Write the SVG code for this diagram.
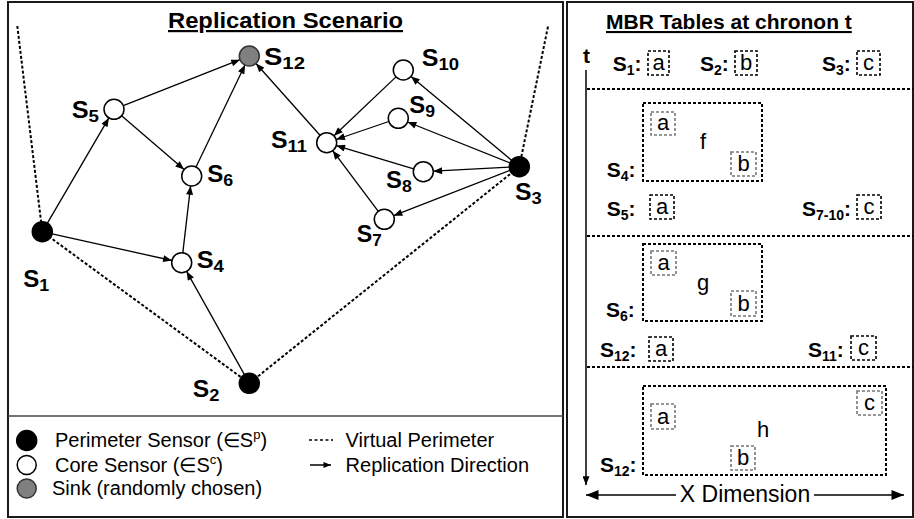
<svg xmlns="http://www.w3.org/2000/svg" width="914" height="519" viewBox="0 0 914 519">
<style>
  .panel { fill: none; stroke: #1a1a1a; stroke-width: 2; }
  .title { font-family: "Liberation Sans", Arial, sans-serif; font-weight: bold; fill: #000; text-decoration: underline; }
  .lbl { font-family: "Liberation Sans", Arial, sans-serif; font-weight: bold; font-size: 23px; fill: #000; }
  .sub { font-size: 17px; }
  .rlbl { font-family: "Liberation Sans", Arial, sans-serif; font-weight: bold; font-size: 21px; fill: #000; }
  .rsub { font-size: 14px; }
  .leg { font-family: "Liberation Sans", Arial, sans-serif; font-size: 20px; fill: #000; }
  .let { font-family: "Liberation Sans", Arial, sans-serif; font-size: 22px; fill: #000; text-anchor: middle; }
  .perim { fill: #000; stroke: #000; stroke-width: 1.5; }
  .core { fill: #fff; stroke: #000; stroke-width: 1.5; }
  .sink { fill: #808080; stroke: #333; stroke-width: 1.5; }
  .edge { stroke: #000; stroke-width: 1.3; fill: none; marker-end: url(#ah); }
  .vp { stroke: #000; stroke-width: 2; stroke-dasharray: 3 2; fill: none; }
  .bigbox { fill: none; stroke: #000; stroke-width: 2; stroke-dasharray: 3 2; }
  .gbox { fill: none; stroke: #777; stroke-width: 1.6; stroke-dasharray: 3 2; }
  .kbox { fill: none; stroke: #000; stroke-width: 1.6; stroke-dasharray: 3 2; }
  .sep { stroke: #000; stroke-width: 2; stroke-dasharray: 3 2; }
  .axis { stroke: #000; stroke-width: 1.5; fill: none; }
</style>
<defs>
  <marker id="ah" viewBox="0 0 10 8" refX="10" refY="4" markerWidth="10" markerHeight="7" markerUnits="userSpaceOnUse" orient="auto">
    <path d="M0,0 L10,4 L0,8 z" fill="#000"/>
  </marker>
  <marker id="ahs" viewBox="0 0 10 8" refX="10" refY="4" markerWidth="8" markerHeight="6" markerUnits="userSpaceOnUse" orient="auto">
    <path d="M0,0 L10,4 L0,8 z" fill="#000"/>
  </marker>
  <marker id="ahb" viewBox="0 0 10 8" refX="10" refY="4" markerWidth="17" markerHeight="10" markerUnits="userSpaceOnUse" orient="auto">
    <path d="M0,0 L10,4 L0,8 z" fill="#000"/>
  </marker>
  <marker id="ahv" viewBox="0 0 10 8" refX="10" refY="4" markerWidth="10" markerHeight="7" markerUnits="userSpaceOnUse" orient="auto">
    <path d="M0,0 L10,4 L0,8 z" fill="#000"/>
  </marker>
</defs>

<rect width="914" height="519" fill="#fff"/>

<!-- Panels -->
<rect class="panel" x="8" y="2" width="555" height="515"/>
<rect class="panel" x="567" y="2" width="346" height="515"/>
<line x1="8" y1="416" x2="563" y2="416" stroke="#444" stroke-width="1.5"/>

<text class="title" x="285.5" y="28" font-size="22" text-anchor="middle" textLength="235" lengthAdjust="spacingAndGlyphs">Replication Scenario</text>
<text class="title" x="606" y="29" font-size="21">MBR Tables at chronon t</text>

<!-- Virtual perimeter -->
<g id="perimeter">
  <polyline class="vp" points="17.3,26 42.3,231.7 249.3,383.3 519.3,166.7 548.3,25"/>
</g>

<!-- Connectors -->
<g id="connectors">
  <line class="edge" x1="123.3" y1="105.6" x2="240.0" y2="59.7"/>
  <line class="edge" x1="121.6" y1="115.8" x2="184.1" y2="169.5"/>
  <line class="edge" x1="196.0" y1="167.0" x2="245.0" y2="65.0"/>
  <line class="edge" x1="47.4" y1="223.1" x2="108.9" y2="117.9"/>
  <line class="edge" x1="52.1" y1="233.9" x2="171.9" y2="260.5"/>
  <line class="edge" x1="182.8" y1="252.8" x2="190.6" y2="185.9"/>
  <line class="edge" x1="244.4" y1="374.6" x2="186.6" y2="271.4"/>
  <line class="edge" x1="320.0" y1="135.2" x2="256.0" y2="63.5"/>
  <line class="edge" x1="396.0" y1="76.9" x2="334.0" y2="135.8"/>
  <line class="edge" x1="388.8" y1="121.5" x2="336.2" y2="139.5"/>
  <line class="edge" x1="413.7" y1="168.8" x2="336.3" y2="145.6"/>
  <line class="edge" x1="378.3" y1="211.3" x2="332.7" y2="150.7"/>
  <line class="edge" x1="511.6" y1="160.3" x2="411.0" y2="76.4"/>
  <line class="edge" x1="510.0" y1="163.0" x2="407.6" y2="122.0"/>
  <line class="edge" x1="509.3" y1="167.2" x2="433.3" y2="171.2"/>
  <line class="edge" x1="510.0" y1="170.3" x2="393.6" y2="215.7"/>
</g>

<!-- Nodes -->
<g id="node-s1"><circle class="perim" cx="42.3" cy="231.7" r="10"/>
  <text class="lbl" x="23.3" y="287.3" textLength="26" lengthAdjust="spacingAndGlyphs">S<tspan class="sub" dy="4">1</tspan></text></g>
<g id="node-s2"><circle class="perim" cx="249.3" cy="383.3" r="10"/>
  <text class="lbl" x="192.7" y="396.7" textLength="26.6" lengthAdjust="spacingAndGlyphs">S<tspan class="sub" dy="4">2</tspan></text></g>
<g id="node-s3"><circle class="perim" cx="519.3" cy="166.7" r="10"/>
  <text class="lbl" x="515" y="200" textLength="26.7" lengthAdjust="spacingAndGlyphs">S<tspan class="sub" dy="4">3</tspan></text></g>
<g id="node-s4"><circle class="core" cx="181.7" cy="262.7" r="10"/>
  <text class="lbl" x="196.7" y="268.3" textLength="27.3" lengthAdjust="spacingAndGlyphs">S<tspan class="sub" dy="4">4</tspan></text></g>
<g id="node-s5"><circle class="core" cx="114" cy="109.3" r="10"/>
  <text class="lbl" x="71.7" y="118.3" textLength="27.3" lengthAdjust="spacingAndGlyphs">S<tspan class="sub" dy="4">5</tspan></text></g>
<g id="node-s6"><circle class="core" cx="191.7" cy="176" r="10"/>
  <text class="lbl" x="207.3" y="181.7" textLength="26" lengthAdjust="spacingAndGlyphs">S<tspan class="sub" dy="4">6</tspan></text></g>
<g id="node-s7"><circle class="core" cx="384.3" cy="219.3" r="10"/>
  <text class="lbl" x="356.7" y="242" textLength="25" lengthAdjust="spacingAndGlyphs">S<tspan class="sub" dy="4">7</tspan></text></g>
<g id="node-s8"><circle class="core" cx="423.3" cy="171.7" r="10"/>
  <text class="lbl" x="386" y="188.3" textLength="25.7" lengthAdjust="spacingAndGlyphs">S<tspan class="sub" dy="4">8</tspan></text></g>
<g id="node-s9"><circle class="core" cx="398.3" cy="118.3" r="10"/>
  <text class="lbl" x="409.3" y="113.3" textLength="25.7" lengthAdjust="spacingAndGlyphs">S<tspan class="sub" dy="4">9</tspan></text></g>
<g id="node-s10"><circle class="core" cx="403.3" cy="70" r="10"/>
  <text class="lbl" x="421.7" y="65.7" textLength="37.3" lengthAdjust="spacingAndGlyphs">S<tspan class="sub" dy="4">10</tspan></text></g>
<g id="node-s11"><circle class="core" cx="326.7" cy="142.7" r="10"/>
  <text class="lbl" x="271" y="148" textLength="36" lengthAdjust="spacingAndGlyphs">S<tspan class="sub" dy="4">11</tspan></text></g>
<g id="node-s12"><circle class="sink" cx="249.3" cy="56" r="10"/>
  <text class="lbl" x="264" y="65" textLength="41" lengthAdjust="spacingAndGlyphs">S<tspan class="sub" dy="4">12</tspan></text></g>

<!-- Legend -->
<g id="legend">
  <circle class="perim" cx="26.7" cy="440.5" r="10"/>
  <circle class="core" cx="26.7" cy="465" r="9.5"/>
  <circle class="sink" cx="26.7" cy="488.5" r="9.5"/>
  <text class="leg" x="55" y="446.5">Perimeter Sensor (∈S<tspan font-size="13" dy="-8">p</tspan><tspan dy="8">)</tspan></text>
  <text class="leg" x="55" y="471.5">Core Sensor (∈S<tspan font-size="13" dy="-8">c</tspan><tspan dy="8">)</tspan></text>
  <text class="leg" x="52" y="495">Sink (randomly chosen)</text>
  <line x1="309" y1="440" x2="333" y2="440" stroke="#000" stroke-width="1.5" stroke-dasharray="3 2.5"/>
  <line x1="310" y1="465" x2="331" y2="465" stroke="#000" stroke-width="1.5" marker-end="url(#ahs)"/>
  <text class="leg" x="345.6" y="446.5">Virtual Perimeter</text>
  <text class="leg" x="345.6" y="471.5">Replication Direction</text>
</g>

<!-- Right panel: MBR tables -->
<g id="mbr-axes">
  <text class="rlbl" x="586.5" y="63" text-anchor="middle">t</text>
  <line class="axis" x1="586" y1="70" x2="586" y2="485" marker-end="url(#ahv)"/>
  <line class="axis" x1="676" y1="495" x2="586" y2="495" marker-end="url(#ahb)"/>
  <line class="axis" x1="814" y1="495" x2="904" y2="495" marker-end="url(#ahb)"/>
  <text x="745" y="501.5" text-anchor="middle" font-family="Liberation Sans, Arial, sans-serif" font-size="23" fill="#000">X Dimension</text>
  <line class="sep" x1="587" y1="89" x2="913" y2="89"/>
  <line class="sep" x1="587" y1="236" x2="913" y2="236"/>
  <line class="sep" x1="587" y1="367" x2="913" y2="367"/>
</g>

<g id="mbr-row1">
  <text class="rlbl" x="612.7" y="71">S<tspan class="rsub" dy="4">1</tspan><tspan dy="-4">:</tspan></text>
  <rect class="kbox" x="648" y="51" width="21" height="24"/>
  <text class="let" x="658.5" y="70">a</text>
  <text class="rlbl" x="700" y="71">S<tspan class="rsub" dy="4">2</tspan><tspan dy="-4">:</tspan></text>
  <rect class="kbox" x="735" y="51" width="22" height="24"/>
  <text class="let" x="746" y="70">b</text>
  <text class="rlbl" x="822" y="71">S<tspan class="rsub" dy="4">3</tspan><tspan dy="-4">:</tspan></text>
  <rect class="kbox" x="857" y="51" width="23" height="24"/>
  <text class="let" x="868.5" y="70">c</text>
</g>

<g id="mbr-s4">
  <rect class="bigbox" x="643" y="103" width="119" height="78"/>
  <rect class="gbox" x="651" y="112" width="24" height="23"/>
  <text class="let" x="663" y="130">a</text>
  <text class="let" x="703" y="149">f</text>
  <rect class="gbox" x="731" y="152" width="25" height="24"/>
  <text class="let" x="743.5" y="171">b</text>
  <text class="rlbl" x="606.7" y="177">S<tspan class="rsub" dy="4">4</tspan><tspan dy="-4">:</tspan></text>
</g>

<g id="mbr-row2">
  <text class="rlbl" x="606.7" y="216">S<tspan class="rsub" dy="4">5</tspan><tspan dy="-4">:</tspan></text>
  <rect class="kbox" x="650" y="195" width="24" height="24"/>
  <text class="let" x="662" y="214">a</text>
  <text class="rlbl" x="802" y="216">S<tspan class="rsub" dy="4">7-10</tspan><tspan dy="-4">:</tspan></text>
  <rect class="kbox" x="857" y="195" width="24" height="24"/>
  <text class="let" x="869" y="214">c</text>
</g>

<g id="mbr-s6">
  <rect class="bigbox" x="643" y="244" width="119" height="77"/>
  <rect class="gbox" x="651" y="251" width="25" height="24"/>
  <text class="let" x="663.5" y="270">a</text>
  <text class="let" x="703" y="290">g</text>
  <rect class="gbox" x="731" y="291" width="25" height="25"/>
  <text class="let" x="743.5" y="311">b</text>
  <text class="rlbl" x="606" y="317">S<tspan class="rsub" dy="4">6</tspan><tspan dy="-4">:</tspan></text>
</g>

<g id="mbr-row3">
  <text class="rlbl" x="600" y="357">S<tspan class="rsub" dy="4">12</tspan><tspan dy="-4">:</tspan></text>
  <rect class="kbox" x="649" y="337" width="24" height="24"/>
  <text class="let" x="661" y="356">a</text>
  <text class="rlbl" x="808" y="357">S<tspan class="rsub" dy="4">11</tspan><tspan dy="-4">:</tspan></text>
  <rect class="kbox" x="851" y="336" width="25" height="24"/>
  <text class="let" x="863.5" y="355">c</text>
</g>

<g id="mbr-s12">
  <rect class="bigbox" x="643" y="386" width="243" height="89"/>
  <rect class="gbox" x="651" y="404" width="24" height="25"/>
  <text class="let" x="663" y="424">a</text>
  <rect class="gbox" x="857" y="391" width="25" height="24"/>
  <text class="let" x="869.5" y="410">c</text>
  <text class="let" x="763" y="437">h</text>
  <rect class="gbox" x="731" y="446" width="24" height="24"/>
  <text class="let" x="743" y="465">b</text>
  <text class="rlbl" x="600" y="472">S<tspan class="rsub" dy="4">12</tspan><tspan dy="-4">:</tspan></text>
</g>
</svg>
